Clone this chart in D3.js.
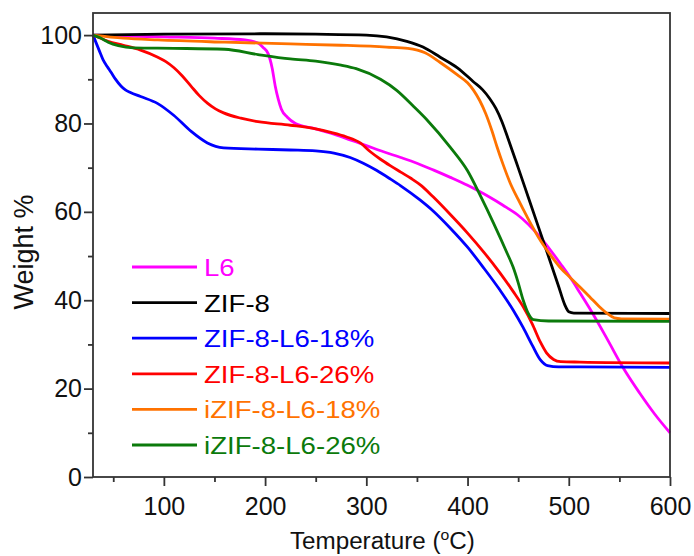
<!DOCTYPE html>
<html>
<head>
<meta charset="utf-8">
<script src="https://cdn.jsdelivr.net/npm/d3@7"></script>
<style>
  body { margin: 0; background: #fff; }
  svg { display: block; }
  text { font-family: Arial, "Liberation Sans", sans-serif; }
</style>
</head>
<body>
<svg id="chart" width="694" height="556"></svg>
<script>
// TGA curves: [temperature (°C), weight (%)]
const l6 = [[30,100],[60,99.8],[100,99.6],[150,99.3],[180,98.9],[193,98.2],[198,97.2],[203,95.8],[207,92.5],[210,88.5],[213,85.5],[216,83.3],[222,81.4],[230,80],[250,78.8],[268,77.6],[284,76.3],[300,75],[317,73.6],[334,72.3],[350,71],[366,69.5],[383,67.8],[400,66],[411,64.7],[422,63.3],[435,61.5],[449,59.4],[460,57.2],[472,54.2],[482,51.3],[492,48.2],[501,45.3],[511,41.7],[521,38],[538,31.2],[554,24.6],[570,19],[585,14.2],[600,10]];
const zif8 = [[30,100],[100,100.2],[200,100.3],[250,100.2],[300,100],[320,99.6],[340,98.6],[356,97.3],[373,95],[390,92.6],[406,89.4],[415,87.6],[422,85.6],[428,83.4],[434,80.4],[440,76.6],[450,70],[460,63.3],[470,56.6],[480,49.9],[490,43.1],[496,39],[500,37.4],[505,37.1],[600,37]];
const zifL6_18 = [[30,100],[33,98.3],[36,96.6],[40,94.4],[44,92.9],[47.8,91.6],[52,90.1],[57.6,88.5],[62,87.6],[67,87],[77,86.1],[94,84.5],[110,81.8],[127,78.2],[143,75.6],[159,74.5],[193,74.2],[225,74],[250,73.8],[268,73.3],[284,72.3],[297,71],[310,69.4],[324,67.4],[334,65.9],[353,62.7],[366,60.2],[383,56.3],[400,52],[416,47.3],[432,42.3],[445,37.8],[455,33.8],[464,29.8],[472,26.5],[479,25.2],[490,24.9],[511,24.9],[600,24.8]];
const zifL6_26 = [[30,100],[45,98.6],[60,97.7],[77,96.6],[94,95],[102,94],[110,92.6],[118,90.8],[127,88.4],[135,86.3],[143,84.6],[151,83.3],[159,82.4],[176,81.2],[193,80.4],[225,79.6],[250,78.8],[265,78],[280,77],[294,75.6],[304,73.6],[314,71.9],[324,70.4],[334,69],[344,67.6],[354,66],[366,63.4],[383,59.4],[400,55.2],[416,50.9],[432,46.2],[445,42],[455,38.5],[464,34.6],[472,30.5],[478,28.1],[485,26.6],[492,26.1],[511,26],[600,25.8]];
const izifL6_18 = [[30,100],[60,99.3],[94,98.9],[160,98.4],[225,98],[275,97.7],[320,97.3],[341,97],[358,96],[373,93.8],[390,91],[400,89.2],[406,87.5],[412,85.2],[418,82.2],[424,78.4],[429,74.8],[435,70.8],[442,66.6],[450,62.8],[459,58.8],[472,53.5],[482,50.2],[491.5,47.4],[502,45],[511,43],[521,40.7],[530,38.6],[538,37],[545,36],[552,35.8],[600,35.7]];
const izifL6_26 = [[30,100],[37,99.4],[45,98.4],[55,97.6],[70,97.1],[110,97],[160,96.8],[193,95.6],[225,94.6],[250,94.1],[275,93.2],[290,92.4],[314,90],[330,87.5],[347,83.8],[360,80.8],[383,74.6],[400,69.3],[413,63.5],[426,57.3],[439,50.7],[445,47.5],[450,44],[455,40],[460,37],[465,35.6],[480,35.3],[600,35.2]];

const seriesNames = ["L6", "ZIF-8", "ZIF-8-L6-18%", "ZIF-8-L6-26%", "iZIF-8-L6-18%", "iZIF-8-L6-26%"];
const seriesValues = [l6, zif8, zifL6_18, zifL6_26, izifL6_18, izifL6_26];
const seriesColors = ["#ff00ff", "#000000", "#0000ff", "#ff0000", "#ff7200", "#0b7a0b"];

const xTicks = [100, 200, 300, 400, 500, 600];
const xMinorTicks = [50, 150, 250, 350, 450, 550];
const yTicks = [0, 20, 40, 60, 80, 100];
const yMinorTicks = [10, 30, 50, 70, 90];

const svg = d3.select("#chart");
const plotLeft = 93, plotRight = 670, plotTop = 13, plotBottom = 477;

const x = d3.scaleLinear().domain([30, 600]).range([plotLeft, plotRight]);
const y = d3.scaleLinear().domain([0, 105]).range([plotBottom, plotTop]);

const axisColor = "#333";

// curves
const line = d3.line()
  .x(d => x(d[0]))
  .y(d => y(d[1]))
  .curve(d3.curveMonotoneX);

const plot = svg.append("g");
seriesValues.forEach((vals, i) => {
  plot.append("path")
    .datum(vals)
    .attr("fill", "none")
    .attr("stroke", seriesColors[i])
    .attr("stroke-width", 2.8)
    .attr("stroke-linejoin", "round")
    .attr("d", line);
});

// frame
svg.append("rect")
  .attr("x", plotLeft).attr("y", plotTop)
  .attr("width", plotRight - plotLeft).attr("height", plotBottom - plotTop)
  .attr("fill", "none").attr("stroke", axisColor).attr("stroke-width", 1.8);

// x axis
const gx = svg.append("g").attr("transform", `translate(0,${plotBottom})`);
gx.call(d3.axisBottom(x).tickValues(xTicks).tickSize(9).tickPadding(11).tickFormat(d3.format("d")));
const gxm = svg.append("g").attr("transform", `translate(0,${plotBottom})`);
gxm.call(d3.axisBottom(x).tickValues(xMinorTicks).tickSize(5).tickFormat(""));

// y axis
const gy = svg.append("g").attr("transform", `translate(${plotLeft},0)`);
gy.call(d3.axisLeft(y).tickValues(yTicks).tickSize(9).tickPadding(2).tickFormat(d3.format("d")));
const gym = svg.append("g").attr("transform", `translate(${plotLeft},0)`);
gym.call(d3.axisLeft(y).tickValues(yMinorTicks).tickSize(5).tickFormat(""));

[gx, gxm, gy, gym].forEach(g => {
  g.select(".domain").remove();
  g.selectAll(".tick line").attr("stroke", axisColor).attr("stroke-width", 1.8);
  g.selectAll(".tick text").attr("fill", "#111").style("font-size", "25px").attr("font-family", null);
});

// axis titles
svg.append("text")
  .attr("transform", `translate(33,252) rotate(-90)`)
  .attr("text-anchor", "middle")
  .attr("fill", "#111")
  .style("font-size", "27px")
  .text("Weight %");

const xt = svg.append("text")
  .attr("x", 0).attr("y", 0)
  .attr("fill", "#111")
  .style("font-size", "23px");
xt.append("tspan").text("Temperature (");
xt.append("tspan").attr("dy", -9).style("font-size", "15px").text("o");
xt.append("tspan").attr("dy", 9).text("C)");
const xtWidth = xt.node().getBBox().width;
xt.attr("transform", `translate(290,549) scale(${185 / xtWidth},1)`);

// legend
const legend = svg.append("g");
const legendTop = 267, legendStep = 35.6;
seriesNames.forEach((name, i) => {
  const ly = legendTop + i * legendStep;
  legend.append("line")
    .attr("x1", 132).attr("x2", 197)
    .attr("y1", ly).attr("y2", ly)
    .attr("stroke", seriesColors[i]).attr("stroke-width", 2.8);
  legend.append("text")
    .attr("transform", `translate(204,${ly + 9}) scale(1.15,1)`)
    .attr("fill", seriesColors[i])
    .style("font-size", "24px")
    .text(name);
});
</script>
</body>
</html>
